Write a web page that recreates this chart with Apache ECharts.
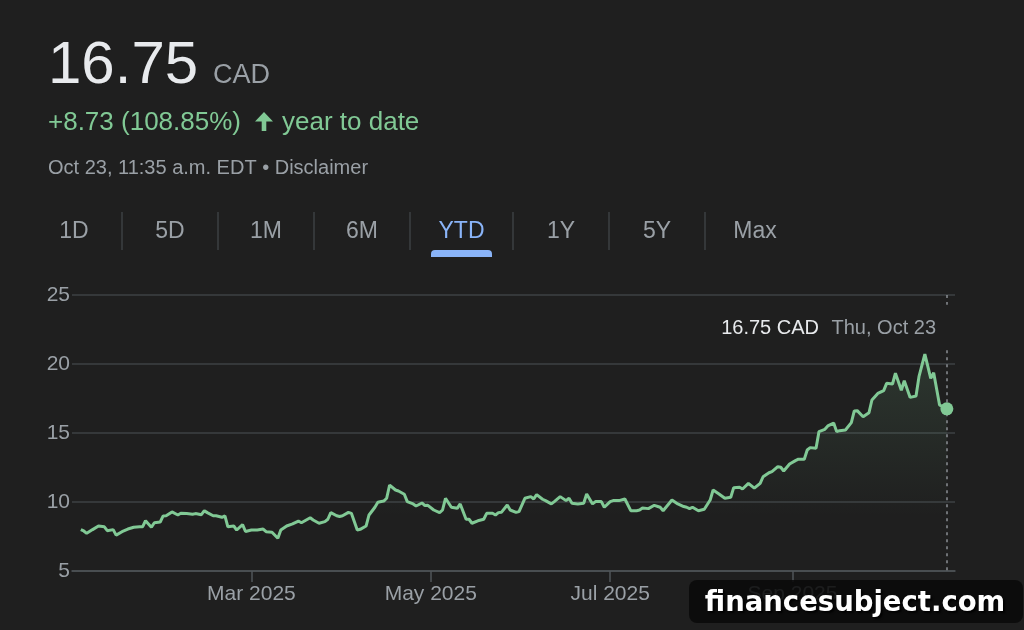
<!DOCTYPE html>
<html>
<head>
<meta charset="utf-8">
<style>
  html, body { margin: 0; padding: 0; background: #1f1f1f; }
  #chart { width: 1024px; height: 630px; }
</style>
<script src="https://cdn.jsdelivr.net/npm/echarts@6/dist/echarts.min.js"></script>
</head>
<body>
<div id="chart"></div>
<script>
// price history, YTD
const dates = [
  '2025-01-02','2025-01-03','2025-01-04','2025-01-06','2025-01-08','2025-01-10','2025-01-11','2025-01-13','2025-01-14','2025-01-16',
  '2025-01-18','2025-01-20','2025-01-22','2025-01-23','2025-01-24','2025-01-26','2025-01-27','2025-01-29','2025-01-30','2025-01-31',
  '2025-02-02','2025-02-04','2025-02-05','2025-02-07','2025-02-09','2025-02-10','2025-02-12','2025-02-13','2025-02-14','2025-02-16',
  '2025-02-17','2025-02-19','2025-02-20','2025-02-21','2025-02-23','2025-02-24','2025-02-26','2025-02-27',
  '2025-03-01','2025-03-03','2025-03-05','2025-03-06','2025-03-08','2025-03-10','2025-03-11','2025-03-13','2025-03-15','2025-03-17',
  '2025-03-18','2025-03-21','2025-03-22','2025-03-24','2025-03-26','2025-03-27','2025-03-28','2025-03-30','2025-03-31',
  '2025-04-01','2025-04-03','2025-04-04','2025-04-06','2025-04-07','2025-04-09','2025-04-10','2025-04-12','2025-04-13','2025-04-15',
  '2025-04-16','2025-04-17','2025-04-19','2025-04-20','2025-04-22','2025-04-23','2025-04-25','2025-04-26','2025-04-28','2025-04-29','2025-04-30',
  '2025-05-02','2025-05-04','2025-05-05','2025-05-06','2025-05-08','2025-05-10','2025-05-11','2025-05-13','2025-05-14','2025-05-15',
  '2025-05-17','2025-05-19','2025-05-20','2025-05-22','2025-05-23','2025-05-24','2025-05-25','2025-05-27','2025-05-28','2025-05-30','2025-05-31',
  '2025-06-02','2025-06-04','2025-06-05','2025-06-06','2025-06-08','2025-06-09','2025-06-11','2025-06-12','2025-06-14','2025-06-16',
  '2025-06-17','2025-06-18','2025-06-20','2025-06-22','2025-06-23','2025-06-25','2025-06-26','2025-06-28','2025-06-29',
  '2025-07-01','2025-07-02','2025-07-04','2025-07-06','2025-07-08','2025-07-10','2025-07-11','2025-07-12','2025-07-14','2025-07-16',
  '2025-07-18','2025-07-19','2025-07-22','2025-07-24','2025-07-26','2025-07-27','2025-07-28','2025-07-29','2025-07-31',
  '2025-08-02','2025-08-04','2025-08-05','2025-08-07','2025-08-09','2025-08-11','2025-08-12','2025-08-14','2025-08-15','2025-08-17',
  '2025-08-19','2025-08-21','2025-08-22','2025-08-24','2025-08-25','2025-08-27','2025-08-28','2025-08-29','2025-08-31',
  '2025-09-02','2025-09-03','2025-09-05','2025-09-06','2025-09-07','2025-09-09','2025-09-10','2025-09-12','2025-09-13','2025-09-15',
  '2025-09-16','2025-09-17','2025-09-19','2025-09-21','2025-09-22','2025-09-23','2025-09-25','2025-09-27','2025-09-28','2025-09-30',
  '2025-10-02','2025-10-03','2025-10-05','2025-10-06','2025-10-08','2025-10-09','2025-10-11','2025-10-13','2025-10-14','2025-10-16',
  '2025-10-18','2025-10-19','2025-10-21','2025-10-22','2025-10-23 11:35'
];
const prices = [
  8.0, 7.9, 7.73, 8.0, 8.26, 8.2, 7.92, 8.0, 7.6, 7.85,
  8.04, 8.17, 8.2, 8.2, 8.64, 8.17, 8.5, 8.55, 8.99, 9.0,
  9.28, 9.06, 9.18, 9.16, 9.11, 9.16, 9.08, 9.37, 9.23, 9.0,
  9.0, 8.89, 9.0, 8.2, 8.26, 7.97, 8.36, 7.86,
  7.97, 7.97, 8.04, 7.85, 7.81, 7.37, 7.97, 8.26, 8.41, 8.62,
  8.5, 8.86, 8.7, 8.46, 8.58, 8.75, 9.23, 9.0, 8.95,
  9.0, 9.25, 9.18, 7.97, 8.02, 8.26, 9.06, 9.62, 9.98, 10.07,
  10.27, 11.23, 10.87, 10.8, 10.56, 10.03, 9.86, 9.71, 9.93, 9.74, 9.76,
  9.42, 9.23, 9.42, 10.27, 9.62, 9.54, 9.86, 8.75, 8.75, 8.46,
  8.64, 8.75, 9.18, 9.18, 9.06, 9.23, 9.25, 9.78, 9.42, 9.25, 9.3,
  10.27, 10.39, 10.22, 10.53, 10.2, 10.1, 9.86, 10.03, 10.39, 10.1,
  10.27, 9.91, 9.86, 9.91, 10.58, 9.86, 10.03, 10.03, 9.62,
  10.03, 10.1, 10.1, 10.22, 9.37, 9.37, 9.42, 9.57, 9.52, 9.76,
  9.62, 9.37, 10.14, 9.86, 9.67, 9.62, 9.52, 9.62, 9.37,
  9.47, 10.14, 10.87, 10.58, 10.27, 10.34, 11.04, 11.07, 10.94, 11.35,
  11.0, 11.35, 11.83, 12.12, 12.2, 12.56, 12.52, 12.25, 12.75,
  13.0, 13.1, 13.1, 13.77, 13.94, 13.89, 15.1, 15.27, 15.51, 15.72,
  15.1, 15.17, 15.22, 15.75, 16.6, 16.62, 16.18, 16.47, 17.39, 17.87,
  18.07, 18.6, 18.55, 19.33, 18.1, 18.79, 17.58, 17.68, 19.08, 20.72,
  18.96, 19.37, 17.03, 16.91, 16.75
];
const prevClose = 8.02;
const xTickDates = ['2025-03-01', '2025-05-01', '2025-07-01', '2025-09-01'];
const xTickLabels = ['Mar 2025', 'May 2025', 'Jul 2025', 'Sep 2025'];
const ranges = ['1D', '5D', '1M', '6M', 'YTD', '1Y', '5Y', 'Max'];
const activeRange = 'YTD';
const quoteTime = 'Oct 23, 11:35 a.m. EDT • Disclaimer';

const FONT = "'Liberation Sans', Arial, Helvetica, sans-serif";
const GREEN = '#81c995';
const GREY = '#9aa0a6';
const WHITE = '#e8eaed';

const t = s => +echarts.time.parse(s);
const data = dates.map((d, i) => [t(d), prices[i]]);
const xTicks = xTickDates.map(t);
const lastT = data[data.length - 1][0];
const lastV = prices[prices.length - 1];
const change = lastV - prevClose;
const pct = change / prevClose * 100;

const DAYS = ['Sun', 'Mon', 'Tue', 'Wed', 'Thu', 'Fri', 'Sat'];
const MONTHS = ['Jan', 'Feb', 'Mar', 'Apr', 'May', 'Jun', 'Jul', 'Aug', 'Sep', 'Oct', 'Nov', 'Dec'];
const ld = new Date(lastT);
const lastLabel = DAYS[ld.getDay()] + ', ' + MONTHS[ld.getMonth()] + ' ' + ld.getDate();

// range tabs: cell edges of the selector row
const tabEdges = [26, 122, 218, 314, 410, 513, 609, 705, 805];

const txt = (text, x, y, size, fill, extra) => ({
  type: 'text', x, y, z: 100,
  style: Object.assign({ text, fill, fontSize: size, fontFamily: FONT, textVerticalAlign: 'middle' }, extra || {})
});

const graphics = [
  txt(lastV.toFixed(2), 48, 66, 60, WHITE),
  txt('CAD', 213, 76, 27, GREY),
  txt('+' + change.toFixed(2) + ' (' + pct.toFixed(2) + '%)', 48, 123, 26, GREEN),
  { type: 'polygon', z: 100, shape: { points: [[264, 112], [273, 121.5], [266.3, 121.5], [266.3, 131], [261.7, 131], [261.7, 121.5], [255, 121.5]] }, style: { fill: GREEN } },
  txt('year to date', 282, 123, 26, GREEN),
  txt(quoteTime, 48, 168, 20, GREY),
  txt(lastV.toFixed(2) + ' CAD', 819, 328, 20, WHITE, { textAlign: 'right' }),
  txt(lastLabel, 936, 328, 20, GREY, { textAlign: 'right' })
];

ranges.forEach((r, i) => {
  const cx = (tabEdges[i] + tabEdges[i + 1]) / 2;
  const on = r === activeRange;
  graphics.push(txt(r, cx, 232, 23, on ? '#8ab4f8' : GREY, { textAlign: 'center' }));
  if (i > 0) {
    graphics.push({ type: 'line', z: 100, shape: { x1: tabEdges[i], y1: 212, x2: tabEdges[i], y2: 250 }, style: { stroke: '#3c4043', lineWidth: 1.5 } });
  }
  if (on) {
    graphics.push({ type: 'rect', z: 100, shape: { x: cx - 30.5, y: 250, width: 61, height: 7, r: [4, 4, 0, 0] }, style: { fill: '#8ab4f8' } });
  }
});

// watermark
graphics.push({ type: 'rect', z: 100, shape: { x: 689, y: 580, width: 334, height: 43, r: 8 }, style: { fill: 'rgba(10,10,10,0.88)' } });
graphics.push({
  type: 'text', x: 855, y: 604, z: 101,
  style: {
    text: 'financesubject.com', fill: '#ffffff', fontSize: 27.5, fontWeight: 'bold', fontFamily: "'DejaVu Sans', sans-serif",
    textAlign: 'center', textVerticalAlign: 'middle',
    textShadowColor: 'rgba(0,0,0,0.9)', textShadowOffsetX: 2, textShadowOffsetY: 2, textShadowBlur: 2
  }
});

const chart = echarts.init(document.getElementById('chart'), null, { renderer: 'canvas' });

chart.setOption({
  backgroundColor: '#1f1f1f',
  animation: false,
  grid: { left: 72, right: 69, top: 295, bottom: 59 },
  xAxis: {
    // timestamps on a linear scale, month labels placed at their dates
    type: 'value',
    min: t('2024-12-30'),
    max: t('2025-10-26 06:00'),
    axisLine: { lineStyle: { color: '#50555a', width: 1.5 } },
    axisTick: { show: true, length: 11, customValues: xTicks, lineStyle: { color: '#50555a', width: 1.5 } },
    axisLabel: {
      customValues: xTicks,
      formatter: v => {
        const i = xTicks.findIndex(x => Math.abs(x - v) < 3600e3);
        return i < 0 ? '' : xTickLabels[i];
      },
      color: GREY, fontSize: 21, fontFamily: FONT, margin: 13
    },
    splitLine: { show: false }
  },
  yAxis: {
    type: 'value',
    min: 5, max: 25, interval: 5,
    axisLine: { show: false },
    axisTick: { show: false },
    axisLabel: { color: GREY, fontSize: 21, fontFamily: FONT, margin: 2 },
    splitLine: { lineStyle: { color: '#3e4245', width: 1.5 } }
  },
  series: [
    {
      type: 'line',
      data: data,
      symbol: 'none',
      lineStyle: { color: GREEN, width: 3 },
      areaStyle: {
        origin: 'start',
        color: new echarts.graphic.LinearGradient(0, 0, 0, 1, [
          { offset: 0, color: 'rgba(129,201,149,0.2)' },
          { offset: 0.45, color: 'rgba(129,201,149,0.08)' },
          { offset: 0.75, color: 'rgba(129,201,149,0)' }
        ])
      },
      z: 3
    },
    {
      type: 'scatter',
      data: [[lastT, lastV]],
      symbolSize: 13,
      itemStyle: { color: GREEN, opacity: 1 },
      z: 5,
      markLine: {
        silent: true,
        symbol: 'none',
        label: { show: false },
        lineStyle: { color: '#8a8f94', type: [3, 4], width: 1.5 },
        data: [
          [{ coord: [lastT, 25] }, { coord: [lastT, 24.3] }],
          [{ coord: [lastT, 21] }, { coord: [lastT, 5] }]
        ]
      }
    }
  ],
  graphic: graphics
});
</script>
</body>
</html>
